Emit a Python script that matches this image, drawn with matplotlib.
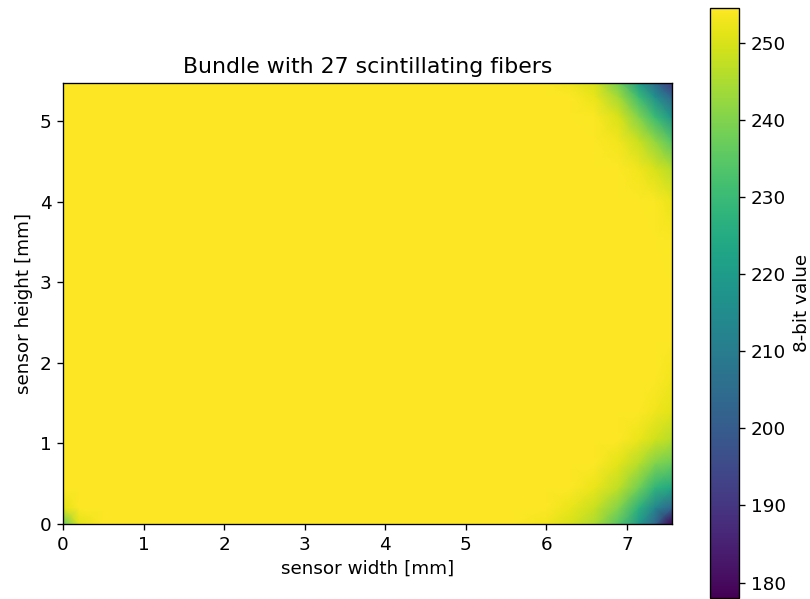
import numpy as np
from matplotlib import pyplot as plt

# sensor size in mm
sensor_width = 7.56
sensor_height = 5.47

x_mm = [0.0, 0.2, 0.5, 1.0, 2.0, 3.0, 4.0, 5.0, 5.6, 6.0, 6.3, 6.6, 6.9, 7.15, 7.35, 7.56]
y_mm = [0.0, 0.2, 0.45, 0.75, 1.05, 1.4, 1.8, 2.3, 2.9, 3.5, 4.0, 4.4, 4.75, 5.05, 5.3, 5.47]

# 8-bit values, one row per y position (bottom row first)
values = [
    [236, 251, 255, 255, 255, 255, 255, 255, 255, 253, 250, 245, 234, 219, 203, 178],
    [251, 255, 255, 255, 255, 255, 255, 255, 255, 255, 252, 248, 240, 227, 213, 203],
    [255, 255, 255, 255, 255, 255, 255, 255, 255, 255, 255, 252, 247, 238, 228, 224],
    [255, 255, 255, 255, 255, 255, 255, 255, 255, 255, 255, 255, 251, 246, 240, 237],
    [255, 255, 255, 255, 255, 255, 255, 255, 255, 255, 255, 255, 255, 252, 249, 246],
    [255, 255, 255, 255, 255, 255, 255, 255, 255, 255, 255, 255, 255, 255, 253, 251],
    [255, 255, 255, 255, 255, 255, 255, 255, 255, 255, 255, 255, 255, 255, 255, 253],
    [255, 255, 255, 255, 255, 255, 255, 255, 255, 255, 255, 255, 255, 255, 255, 255],
    [255, 255, 255, 255, 255, 255, 255, 255, 255, 255, 255, 255, 255, 255, 255, 255],
    [255, 255, 255, 255, 255, 255, 255, 255, 255, 255, 255, 255, 255, 255, 255, 254],
    [255, 255, 255, 255, 255, 255, 255, 255, 255, 255, 255, 255, 255, 255, 254, 252],
    [255, 255, 255, 255, 255, 255, 255, 255, 255, 255, 255, 255, 255, 253, 250, 246],
    [255, 255, 255, 255, 255, 255, 255, 255, 255, 255, 255, 255, 253, 248, 242, 234],
    [255, 255, 255, 255, 255, 255, 255, 255, 255, 255, 255, 254, 250, 240, 230, 218],
    [255, 255, 255, 255, 255, 255, 255, 255, 255, 255, 255, 252, 244, 230, 216, 203],
    [255, 255, 255, 255, 255, 255, 255, 255, 255, 255, 253, 250, 238, 220, 205, 190],
]

fig = plt.figure(figsize=(6.75, 4.9917), dpi=120)
ax = fig.add_axes([0.0778, 0.1252, 0.7519, 0.7362])
cax = fig.add_axes([0.8765, 0.0017, 0.0358, 0.985])

mesh = ax.pcolormesh(x_mm, y_mm, np.array(values), shading='gouraud',
                     cmap='viridis', vmin=178, vmax=254.5)
ax.set_xlim(0, sensor_width)
ax.set_ylim(0, sensor_height)
ax.set_aspect('equal')

ax.set_title("Bundle with 27 scintillating fibers", fontsize=13.2)
ax.set_xlabel('sensor width [mm]', fontsize=11)
ax.set_ylabel('sensor height [mm]', fontsize=11)
ax.tick_params(axis='both', labelsize=11)

cbar = fig.colorbar(mesh, cax=cax)
cbar.set_label('8-bit value', fontsize=11)
cbar.ax.tick_params(labelsize=11)

plt.savefig('out.png', dpi=120)
